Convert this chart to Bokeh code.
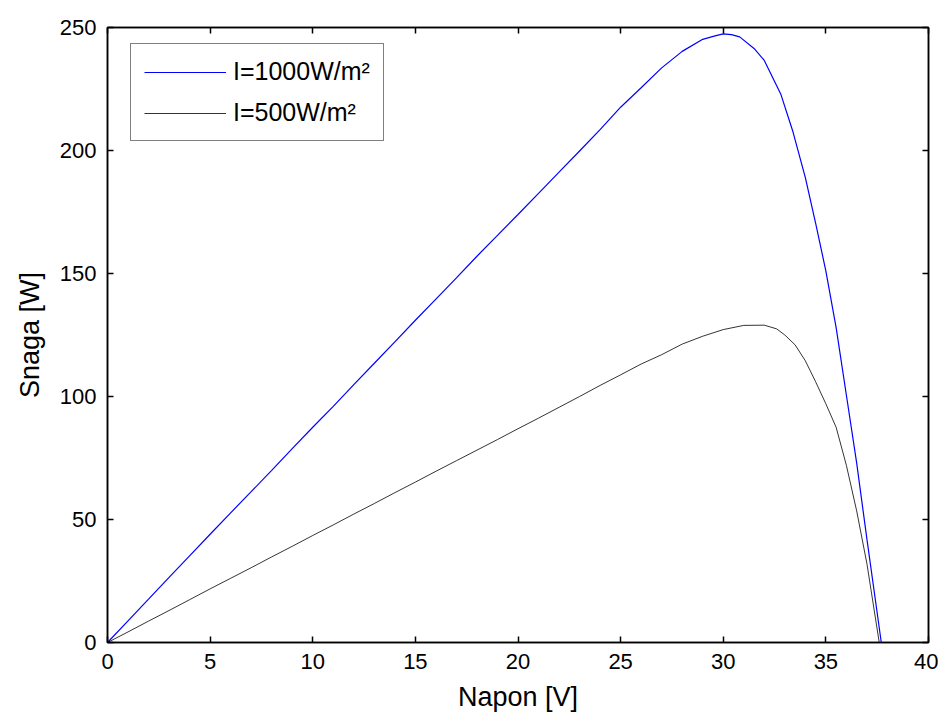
from bokeh.plotting import figure
from bokeh.models import LinearAxis, FixedTicker, Range1d, Legend, LegendItem
from bokeh.embed import file_html
from bokeh.resources import INLINE

# Data
v_1000 = [0, 1, 2, 3, 4, 5, 6, 7, 8, 9, 10, 11, 12, 13, 14, 15, 16, 17, 18, 19,
          20, 21, 22, 23, 24, 25, 26, 27, 28, 29, 29.6, 30, 30.4, 30.8, 31.5, 32,
          32.8, 33.4, 34, 34.5, 35, 35.5, 36, 36.5, 37, 37.7]
p_1000 = [0, 8.8, 17.6, 26.5, 35.2, 44, 52.7, 61.3, 70, 78.8, 87.5, 96, 104.8,
          113.5, 122.2, 131, 139.6, 148.2, 157, 165.5, 174, 182.6, 191.2, 199.8,
          208.5, 217.6, 225.5, 233.6, 240.3, 245.2, 246.6, 247.4, 247.1, 246.2,
          241.5, 236.6, 223, 207.5, 189, 170.5, 151, 128, 100.5, 73, 42, 0]

v_500 = [0, 1, 2, 3, 4, 5, 6, 7, 8, 9, 10, 11, 12, 13, 14, 15, 16, 17, 18, 19,
         20, 21, 22, 23, 24, 25, 26, 27, 28, 29, 30, 31, 32, 32.6, 33, 33.5, 34,
         34.5, 35, 35.5, 36, 36.5, 37, 37.6]
p_500 = [0, 4.3, 8.7, 13, 17.4, 21.8, 26.1, 30.4, 34.8, 39.1, 43.5, 47.8, 52.2,
         56.5, 60.9, 65.2, 69.6, 73.9, 78.2, 82.5, 86.9, 91.2, 95.6, 100, 104.5,
         108.8, 113.2, 117, 121.3, 124.5, 127.2, 128.9, 129, 127.5, 125, 121,
         114.5, 106, 97, 87.5, 72, 53.5, 32, 0]

x_ticks = [0, 5, 10, 15, 20, 25, 30, 35, 40]
y_ticks = [0, 50, 100, 150, 200, 250]
labels = ["I=1000W/m\u00b2", "I=500W/m\u00b2"]
x_label = "Napon [V]"
y_label = "Snaga [W]"

FONT = "Liberation Sans"

p = figure(frame_width=821, frame_height=615,
           x_range=Range1d(0, 40), y_range=Range1d(0, 250),
           output_backend="svg", toolbar_location=None,
           min_border_left=107, min_border_top=27, min_border_right=10,
           min_border_bottom=40)

p.grid.visible = False
p.outline_line_color = "black"
p.outline_line_width = 1.5
p.background_fill_color = "white"
p.border_fill_color = "white"

r1 = p.line(v_1000, p_1000, line_color="#0000ff", line_width=1.2)
r2 = p.line(v_500, p_500, line_color="#000000", line_width=0.8)


def base_style(ax):
    ax.axis_line_color = "black"
    ax.axis_line_width = 1.5
    ax.major_tick_line_color = "black"
    ax.major_tick_line_width = 1.5
    ax.minor_tick_line_color = "black"
    ax.minor_tick_line_width = 1.5


for ax, ticks in ((p.xaxis[0], x_ticks), (p.yaxis[0], y_ticks)):
    base_style(ax)
    ax.ticker = FixedTicker(ticks=ticks, minor_ticks=[])
    ax.major_tick_in = 6
    ax.major_tick_out = 0
    ax.minor_tick_in = 0
    ax.minor_tick_out = 0
    ax.major_label_text_font = FONT
    ax.major_label_text_font_size = "22px"
    ax.major_label_text_color = "black"
    ax.axis_label_text_font = FONT
    ax.axis_label_text_font_size = "27px"
    ax.axis_label_text_font_style = "normal"
    ax.axis_label_text_color = "black"

p.xaxis[0].axis_label = x_label
p.yaxis[0].axis_label = y_label
p.xaxis[0].major_label_standoff = 11
p.yaxis[0].major_label_standoff = 11
p.xaxis[0].axis_label_standoff = 10
p.yaxis[0].axis_label_standoff = 12

# mirrored tick marks on top and right (minor ticks only, no labels)
top_ax = LinearAxis(ticker=FixedTicker(ticks=[], minor_ticks=x_ticks))
right_ax = LinearAxis(ticker=FixedTicker(ticks=[], minor_ticks=y_ticks))
for ax in (top_ax, right_ax):
    base_style(ax)
    ax.major_tick_in = 0
    ax.major_tick_out = 0
    ax.minor_tick_in = 6
    ax.minor_tick_out = 0
p.add_layout(top_ax, "above")
p.add_layout(right_ax, "right")

legend = Legend(items=[LegendItem(label=labels[0], renderers=[r1]),
                       LegendItem(label=labels[1], renderers=[r2])],
                location=(23, 501))
legend.border_line_color = "black"
legend.border_line_width = 1
legend.background_fill_color = "white"
legend.background_fill_alpha = 1
legend.label_text_font = FONT
legend.label_text_font_size = "25px"
legend.label_text_color = "black"
legend.glyph_width = 82
legend.glyph_height = 20
legend.label_height = 24
legend.spacing = 12
legend.padding = 13
legend.label_standoff = 7
legend.margin = 0
p.add_layout(legend, "center")

open("out.html", "w").write(file_html(p, INLINE))
